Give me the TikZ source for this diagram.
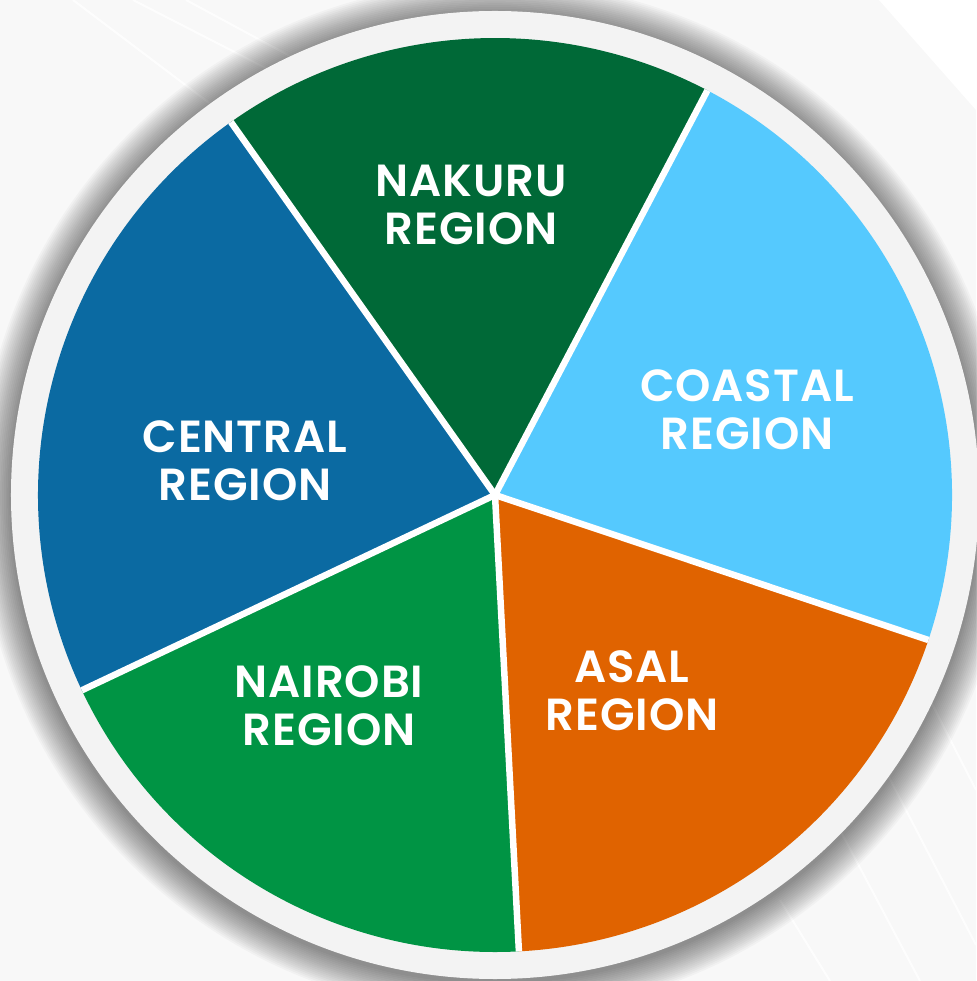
\documentclass[tikz,border=0pt]{standalone}
\usepackage{fontspec}
\newfontfamily\etiquettefont{Poppins SemiBold}[LetterSpace=2]
\definecolor{fond}{HTML}{F8F8F8}
\definecolor{anneau}{HTML}{F3F3F3}
\definecolor{nakuru}{HTML}{006937}
\definecolor{coastal}{HTML}{55C9FE}
\definecolor{asal}{HTML}{E06300}
\definecolor{nairobi}{HTML}{009444}
\definecolor{central}{HTML}{0B6AA2}
\begin{document}
\begin{tikzpicture}[x=1pt,y=1pt]
		% Styles
		\tikzstyle{trait}=[white,opacity=0.8,line width=2pt]
		\tikzstyle{separateur}=[white,line width=6.5pt]
		\tikzstyle{etiquette}=[text=white,inner sep=0pt,align=center,font=\etiquettefont\fontsize{45}{48}\selectfont]
		% Dimensions
		\def\RayonAnneau{484}
		\def\RayonSecteur{457}
		\def\AngleA{125.3}
		\def\AngleB{62.3}
		\def\AngleC{-18.5}
		\def\AngleD{-87}
		\def\AngleE{-154.7}
		% Fond
		\useasboundingbox[fill=fond] (-495,-486) rectangle (481,495);
		\fill[white] (384,495) -- (481,495) -- (481,385) -- cycle;
		\draw[trait] (-422,495) -- (-250,365);
		\draw[trait] (-362,495) -- (-200,412);
		\draw[trait] (-309,495) -- (-170,420);
		\draw[trait] (435,-205) -- (481,-295);
		\draw[trait] (385,-265) -- (481,-450);
		\draw[trait] (345,-335) -- (425,-486);
		\draw[trait] (285,-405) -- (335,-486);
		% Ombre
		\foreach \i in {1,...,18}
			\fill[black,opacity=0.028] (0,-3) circle ({\RayonAnneau+1.8*\i});
		% Anneau
		\fill[anneau] (0,0) circle (\RayonAnneau);
		% Secteurs
		\coordinate (centre) at (0,0);
		\fill[nakuru] (centre) -- (\AngleB:\RayonSecteur) arc[start angle=\AngleB,end angle=\AngleA,radius=\RayonSecteur] -- cycle;
		\fill[coastal] (centre) -- (\AngleC:\RayonSecteur) arc[start angle=\AngleC,end angle=\AngleB,radius=\RayonSecteur] -- cycle;
		\fill[asal] (centre) -- (\AngleD:\RayonSecteur) arc[start angle=\AngleD,end angle=\AngleC,radius=\RayonSecteur] -- cycle;
		\fill[nairobi] (centre) -- (\AngleE:\RayonSecteur) arc[start angle=\AngleE,end angle=\AngleD,radius=\RayonSecteur] -- cycle;
		\fill[central] (centre) -- (\AngleA:\RayonSecteur) arc[start angle=\AngleA,end angle=\AngleE+360,radius=\RayonSecteur] -- cycle;
		% Separateurs
		\coordinate (bordA) at (\AngleA:\RayonSecteur);
		\coordinate (bordB) at (\AngleB:\RayonSecteur);
		\coordinate (bordC) at (\AngleC:\RayonSecteur);
		\coordinate (bordD) at (\AngleD:\RayonSecteur);
		\coordinate (bordE) at (\AngleE:\RayonSecteur);
		\draw[separateur] (centre) -- (bordA);
		\draw[separateur] (centre) -- (bordB);
		\draw[separateur] (centre) -- (bordC);
		\draw[separateur] (centre) -- (bordD);
		\draw[separateur] (centre) -- (bordE);
		% Noeuds
		\node[etiquette] (Nakuru) at (-24,290) {NAKURU\\REGION};
		\node[etiquette] (Coastal) at (252,85) {COASTAL\\REGION};
		\node[etiquette] (Central) at (-250,34) {CENTRAL\\REGION};
		\node[etiquette] (Asal) at (137,-196) {ASAL\\REGION};
		\node[etiquette] (Nairobi) at (-166,-211) {NAIROBI\\REGION};
\end{tikzpicture}
\end{document}
